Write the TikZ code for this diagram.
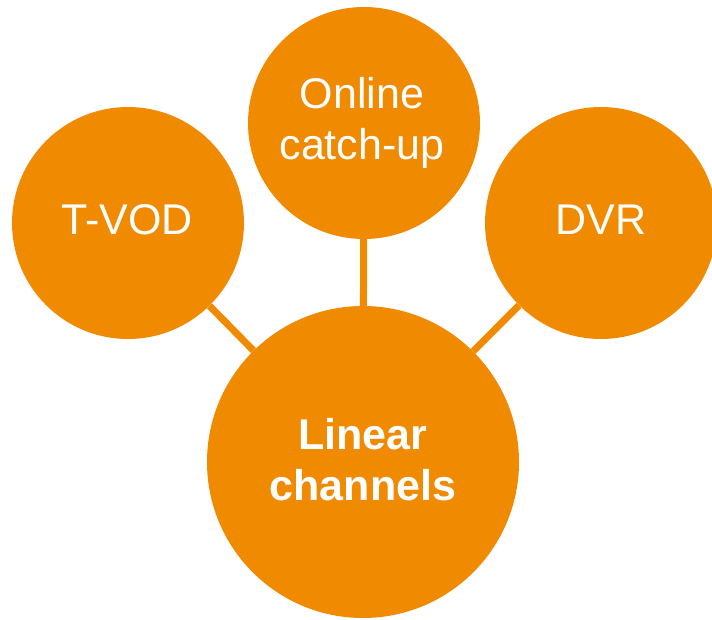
\documentclass[tikz,border=0pt]{standalone}
\usepackage{fontspec}
\setmainfont{Liberation Sans}
\definecolor{org}{RGB}{240,138,0}
\tikzset{
  bub/.style={circle, fill=org, draw=none, inner sep=0pt},
  link/.style={draw=org, line width=7pt},
  lbl/.style={text=white, align=center, inner sep=0pt, font=\fontsize{43}{51}\selectfont},
}
\begin{document}
\begin{tikzpicture}[x=1pt,y=-1pt]
\useasboundingbox (0,0) rectangle (712,620);
\node[bub, minimum size=232pt] (tvod) at (128,223) {};
\node[bub, minimum size=232pt] (ocu) at (364,123) {};
\node[bub, minimum size=232pt] (dvr) at (601,223) {};
\node[bub, minimum size=312pt] (lin) at (363,462) {};
\draw[link] (tvod) -- (lin);
\draw[link] (ocu) -- (lin);
\draw[link] (dvr) -- (lin);
\node[lbl, anchor=base] (t1) at (127,235) {T-VOD};
\node[lbl, anchor=base] (t2) at (362,160) {Online\\catch-up};
\node[lbl, anchor=base] (t3) at (601,235) {DVR};
\node[lbl, anchor=base, font=\fontsize{43}{51}\selectfont\bfseries] (t4) at (363,500) {Linear\\channels};
\end{tikzpicture}
\end{document}
